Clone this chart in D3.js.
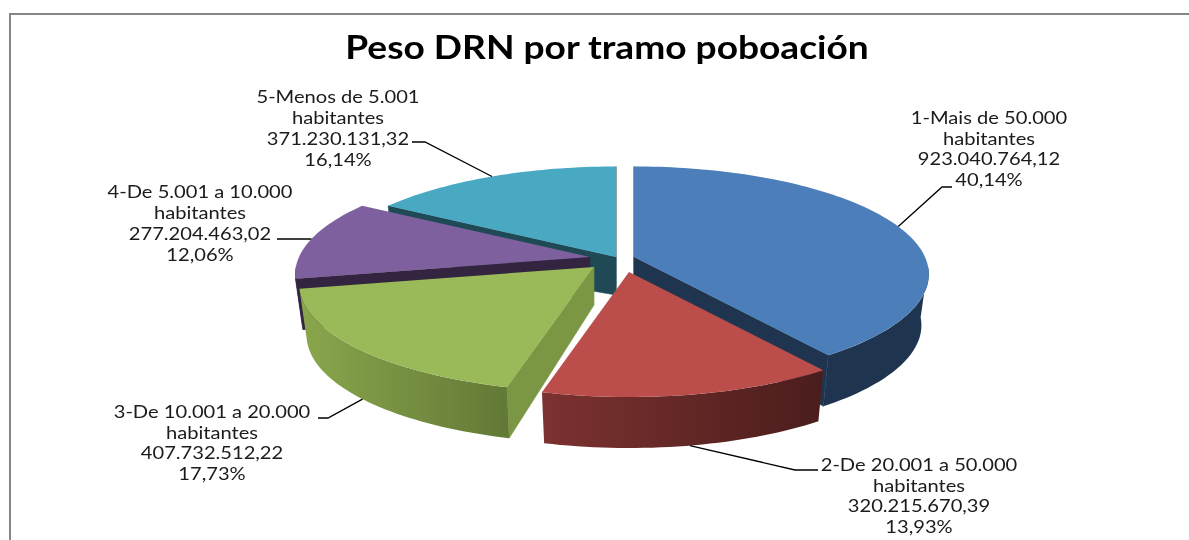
<!DOCTYPE html>
<meta charset="utf-8">
<style type="text/css">
  body { margin:0; background:#ffffff; overflow:hidden; }
  text { font-family:'Lato'; fill:#1a1a1a; }
</style>
<script src="https://d3js.org/d3.v7.min.js"></script>
<body>
<div id="chart"></div>
</body>
<script>

// data
var categories = ["1-Mais de 50.000", "2-De 20.001 a 50.000", "3-De 10.001 a 20.000", "4-De 5.001 a 10.000", "5-Menos de 5.001"]
var values = [923040764.12, 320215670.39, 407732512.22, 277204463.02, 371230131.32]
var percents = [40.14, 13.93, 17.73, 12.06, 16.14]
var unitLabel = "habitantes"
var title = "Peso DRN por tramo poboación"

// colours per slice
var topColor = ["#4c7fba", "#bb4e4b", "#9aba59", "#7f609e", "#49a9c3"]
var sideColor = ["#1f344f", "#5c2625", "#7b9744", "#33253f", "#1f4a55"]
var rimLeft = ["#1f344f", "#7c3230", "#8aa74c", "#33253f", "#1f4a55"]
var rimRight = ["#1f344f", "#4a1d1c", "#627836", "#33253f", "#1f4a55"]

// layout: each slice is pulled out of the pie by its own amount
var width = 1189, height = 540
var centerX = 620, centerY = 260
var explodeX = [14, 9, -26, -30, -4]
var explodeY = [-3, 12, 7, -3, -3]
var radiusX = 291, radiusY = 105, perspective = 0.16
var rimDepth = 51, apexDepth = 38, bottomScale = 0.975
// label centre x, first baseline y, elbow of the leader, end of the leader
var labelX = [989, 919, 212, 200, 338]
var labelY = [124, 471, 418, 198, 103]
var elbowX = [942, 795, 328, 311, 425]
var elbowY = [187, 470, 418, 239, 142]
var leaderX = [952, 818, 318, 277, 412]
var leaderY = [187, 470, 418, 239, 142]
var lineGap = [20.6, 20.6, 20.6, 20.9, 20.9]

var svg = d3.select("#chart")
  .append("svg")
    .attr("width", width)
    .attr("height", height)

var defs = svg.append("defs")

// the reference is a slightly soft screenshot
defs.append("filter").attr("id", "soft")
  .append("feGaussianBlur").attr("stdDeviation", 0.35)

// frame of the chart area, runs off the bottom and right of the picture
svg.append("path")
  .attr("d", "M10,541V14H1190")
  .attr("fill", "none")
  .attr("stroke", "#868686")
  .attr("stroke-width", 2)

svg.append("g")
  .attr("transform", "translate(607,59) scale(1.16,1)")
  .append("text")
  .attr("text-anchor", "middle")
  .attr("filter", "url(#soft)")
  .style("font-size", "32px")
  .style("font-weight", 700)
  .style("fill", "#000000")
  .text(title)

var pie = d3.pie().value(function(d) { return d }).sort(null)
var arcs = pie(values)

// top rim point of a slice, relative to its apex
function rimPoint(angle) {
  var u = Math.sin(angle), v = Math.cos(angle)
  var s = 1 / (1 + perspective * v)
  return [radiusX * u * s, -radiusY * v * s]
}

function toTop(i, p) {
  return [centerX + explodeX[i] + p[0], centerY + explodeY[i] + p[1]]
}

function toBottom(i, p) {
  return [centerX + explodeX[i] + p[0] * bottomScale, centerY + explodeY[i] + p[1] + rimDepth]
}

function steps(a0, a1) {
  var n = Math.max(2, Math.ceil((a1 - a0) * 40))
  return d3.range(n + 1).map(function(k) { return a0 + (a1 - a0) * k / n })
}

var line = d3.line()
var rimFrom = 95 * Math.PI / 180, rimTo = 265 * Math.PI / 180

// back slices first so the nearer ones cover them
var order = [4, 3, 0, 2, 1]

order.forEach(function(i) {
  var d = arcs[i]
  var g = svg.append("g")
  var apex = toTop(i, [0, 0])
  var apexLow = [apex[0], apex[1] + apexDepth]

  // the cut faces, only the ones turned towards the viewer
  var faces = [d.startAngle, d.endAngle].filter(function(a, k) {
    var nv = k == 0 ? Math.sin(a) : -Math.sin(a)
    return nv <= 1e-6
  })
  faces.forEach(function(a) {
    var p = rimPoint(a)
    g.append("path")
      .attr("d", line([apex, toTop(i, p), toBottom(i, p), apexLow]) + "Z")
      .attr("fill", sideColor[i])
      .attr("stroke", sideColor[i])
      .attr("stroke-width", 0.6)
  })

  // outer wall
  var a0 = Math.max(d.startAngle, rimFrom), a1 = Math.min(d.endAngle, rimTo)
  if (a1 > a0) {
    var grad = defs.append("linearGradient").attr("id", "rim" + i)
    grad.append("stop").attr("offset", "0%").attr("stop-color", rimLeft[i])
    grad.append("stop").attr("offset", "100%").attr("stop-color", rimRight[i])
    var upper = steps(a0, a1).map(function(a) { return toTop(i, rimPoint(a)) })
    var lower = steps(a0, a1).map(function(a) { return toBottom(i, rimPoint(a)) }).reverse()
    g.append("path")
      .attr("d", line(upper.concat(lower)) + "Z")
      .attr("fill", "url(#rim" + i + ")")
  }

  // top face
  var face = [apex].concat(steps(d.startAngle, d.endAngle).map(function(a) { return toTop(i, rimPoint(a)) }))
  g.append("path")
    .attr("d", line(face) + "Z")
    .attr("fill", topColor[i])
})

var fmtLocale = d3.formatLocale({decimal: ",", thousands: ".", grouping: [3], currency: ["", ""]})
var fmtValue = fmtLocale.format(",.2f")
var fmtPct = fmtLocale.format(".2f")

arcs.forEach(function(d, i) {
  // leader starts on the rim at the middle of the slice, on the wall for the near slices
  var mid = (d.startAngle + d.endAngle) / 2
  var p = rimPoint(mid)
  var start = Math.cos(mid) < -0.3 ? toBottom(i, p) : toTop(i, p)
  svg.append("path")
    .attr("d", line([start, [elbowX[i], elbowY[i]], [leaderX[i], leaderY[i]]]))
    .attr("fill", "none")
    .attr("stroke", "#000000")
    .attr("stroke-width", 1.3)

  var rows = [categories[i], unitLabel, fmtValue(values[i]), fmtPct(percents[i]) + "%"]
  var lab = svg.append("g").attr("transform", "translate(" + labelX[i] + "," + labelY[i] + ") scale(1.22,1)")
  lab.selectAll("text")
    .data(rows)
    .enter()
    .append("text")
    .attr("text-anchor", "middle")
    .attr("y", function(r, k) { return k * lineGap[i] })
    .attr("filter", "url(#soft)")
    .style("font-size", "16.5px")
    .text(function(r) { return r })
})

</script>
